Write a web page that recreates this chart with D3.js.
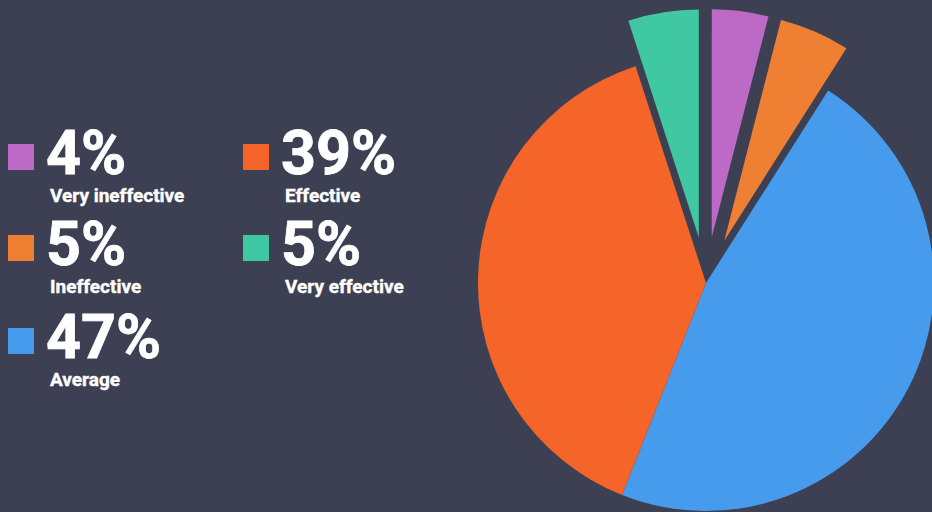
<!DOCTYPE html>
<html>
<head>
<meta charset="utf-8">
<script src="https://cdn.jsdelivr.net/npm/d3@7"></script>
<style>
  html, body { margin: 0; padding: 0; background: #3d4052; overflow: hidden; }
  svg { display: block; }
</style>
</head>
<body>
<svg id="canvas" width="932" height="512"></svg>
<script>
const labels = ['Very ineffective', 'Ineffective', 'Average', 'Effective', 'Very effective'];
const values = [4, 5, 47, 39, 5];
const colors = ['#bd69c6', '#ee7f33', '#479bec', '#f56428', '#40c8a2'];
const pulledOut = [true, true, false, false, true];

const canvas = d3.select('#canvas');
const W = 932, H = 512;

canvas.append('rect')
  .attr('width', W)
  .attr('height', H)
  .attr('fill', '#3d4052');

// pie
const CX = 706, CY = 283, R = 228, PULL = 46;

const pie = d3.pie().sort(null).value(d => d);
const arc = d3.arc().innerRadius(0).outerRadius(R);

const pieG = canvas.append('g')
  .attr('transform', `translate(${CX},${CY})`);

pieG.selectAll('path')
  .data(pie(values))
  .join('path')
  .attr('d', arc)
  .attr('fill', (d, i) => colors[i])
  .attr('transform', (d, i) => {
    if (!pulledOut[i]) return null;
    const mid = (d.startAngle + d.endAngle) / 2;
    return `translate(${Math.sin(mid) * PULL},${-Math.cos(mid) * PULL})`;
  });

// legend
const colX = d3.scaleOrdinal().domain([0, 1]).range([8, 243]);
const rowY = d3.scaleOrdinal().domain([0, 1, 2]).range([174, 265, 358]);

const items = labels.map((l, i) => ({
  label: l,
  value: values[i],
  color: colors[i],
  col: i < 3 ? 0 : 1,
  row: i < 3 ? i : i - 3
}));

const legend = canvas.append('g')
  .selectAll('g')
  .data(items)
  .join('g')
  .attr('transform', d => `translate(${colX(d.col)},${rowY(d.row)})`);

legend.append('rect')
  .attr('x', 0)
  .attr('y', -30)
  .attr('width', 26)
  .attr('height', 26)
  .attr('fill', d => d.color);

legend.append('text')
  .attr('x', 38)
  .attr('y', 0)
  .attr('fill', '#ffffff')
  .attr('stroke', '#ffffff')
  .attr('stroke-width', 0.8)
  .style('font-family', 'Roboto, sans-serif')
  .style('font-weight', 700)
  .style('font-size', '61px')
  .text(d => d.value + '%');

legend.append('text')
  .attr('x', 42)
  .attr('y', 28)
  .attr('fill', '#ffffff')
  .attr('stroke', '#ffffff')
  .attr('stroke-width', 0.4)
  .style('font-family', 'Roboto, sans-serif')
  .style('font-weight', 700)
  .style('font-size', '19px')
  .text(d => d.label);
</script>
</body>
</html>
